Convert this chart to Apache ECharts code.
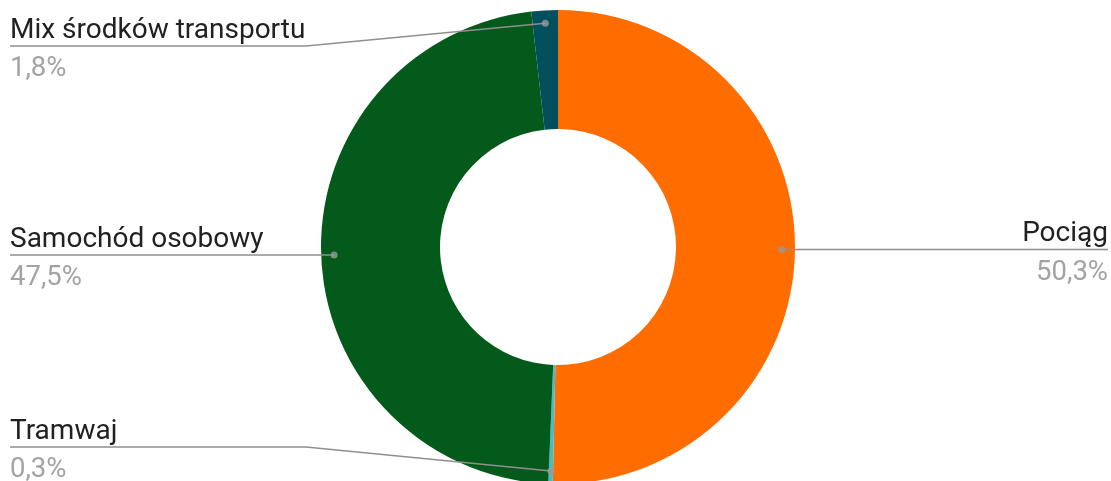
<!DOCTYPE html>
<html>
<head>
<meta charset="utf-8">
<script src="https://cdn.jsdelivr.net/npm/echarts@6/dist/echarts.min.js"></script>
<style>
  html, body { margin: 0; padding: 0; background: #ffffff; }
  #chart { width: 1111px; height: 481px; }
</style>
</head>
<body>
<div id="chart"></div>
<script>
// Share of trips by mode of transport (%)
const categories = ['Pociąg', 'Tramwaj', 'Samochód osobowy', 'Mix środków transportu'];
const shares = [50.3, 0.3, 47.5, 1.8];
const colors = ['#ff6d01', '#46bdc6', '#045a1b', '#02505d'];

// Donut geometry
const W = 1111, H = 481;
const CX = 558, CY = 247, R_IN = 118, R_OUT = 237, R_DOT = 224;

// Label text metrics: name sits above the leader line, value below it
const LH_NAME = 31, LH_VALUE = 47;

const total = shares.reduce((a, b) => a + b, 0);
const mids = [];
let acc = 0;
shares.forEach(v => { mids.push(acc + v / 2); acc += v; });

const fmt = v => v.toFixed(1).replace('.', ',') + '%';

// Point where a slice's leader line starts (same spot as its dot)
function anchor(i) {
  const a = mids[i] / total * 2 * Math.PI;
  return [CX + R_DOT * Math.sin(a), CY - R_DOT * Math.cos(a)];
}

const pieBase = {
  type: 'pie',
  center: [CX, CY],
  radius: [R_IN, R_OUT],
  startAngle: 90,
  clockwise: true,
  silent: true
};

const chart = echarts.init(document.getElementById('chart'), null, { renderer: 'canvas' });

const option = {
  animation: false,
  backgroundColor: '#ffffff',
  polar: { center: [CX, CY], radius: R_OUT },
  angleAxis: { type: 'value', min: 0, max: total, startAngle: 90, clockwise: true, show: false },
  radiusAxis: { type: 'value', min: 0, max: R_OUT, show: false },
  series: [
    // coloured ring
    Object.assign({}, pieBase, {
      z: 2,
      data: categories.map((c, i) => ({ name: c, value: shares[i], itemStyle: { color: colors[i] } })),
      label: { show: false },
      labelLine: { show: false }
    }),
    // transparent copy on top carrying the labels and leader lines
    Object.assign({}, pieBase, {
      z: 4,
      data: categories.map((c, i) => ({ name: c, value: shares[i] })),
      itemStyle: { color: 'rgba(0,0,0,0)' },
      label: {
        show: true,
        formatter: p => '{n|' + p.name + '}\n{v|' + fmt(p.value) + '}',
        rich: {
          n: { fontFamily: 'Roboto', fontSize: 28, color: '#212121', lineHeight: LH_NAME },
          v: { fontFamily: 'Roboto', fontSize: 27.5, color: '#a3a3a3', lineHeight: LH_VALUE }
        }
      },
      labelLine: { show: true, showAbove: true, lineStyle: { color: '#8f8f8f', width: 1.5 } },
      labelLayout: function (p) {
        const i = p.dataIndex;
        const a = anchor(i);
        const left = a[0] < CX;
        const lineY = Math.min(Math.max(a[1], 46), 447);
        const farX = left ? 10 : W - 3;
        let pts;
        if (Math.abs(lineY - a[1]) < 3) {
          pts = [a, [(a[0] + farX) / 2, a[1]], [farX, a[1]]];
        } else {
          const ex = left ? CX - R_OUT - 15 : CX + R_OUT + 15;
          pts = [a, [ex, lineY], [farX, lineY]];
        }
        return {
          x: left ? 10 : W - 3,
          y: lineY + (LH_VALUE - LH_NAME) / 2,
          align: left ? 'left' : 'right',
          verticalAlign: 'middle',
          labelLinePoints: pts
        };
      }
    }),
    {
      type: 'scatter',
      coordinateSystem: 'polar',
      data: mids.map(m => [R_DOT, m]),
      symbolSize: 7,
      itemStyle: { color: '#9a9a9a' },
      silent: true,
      z: 5
    }
  ]
};

chart.setOption(option);
</script>
</body>
</html>
